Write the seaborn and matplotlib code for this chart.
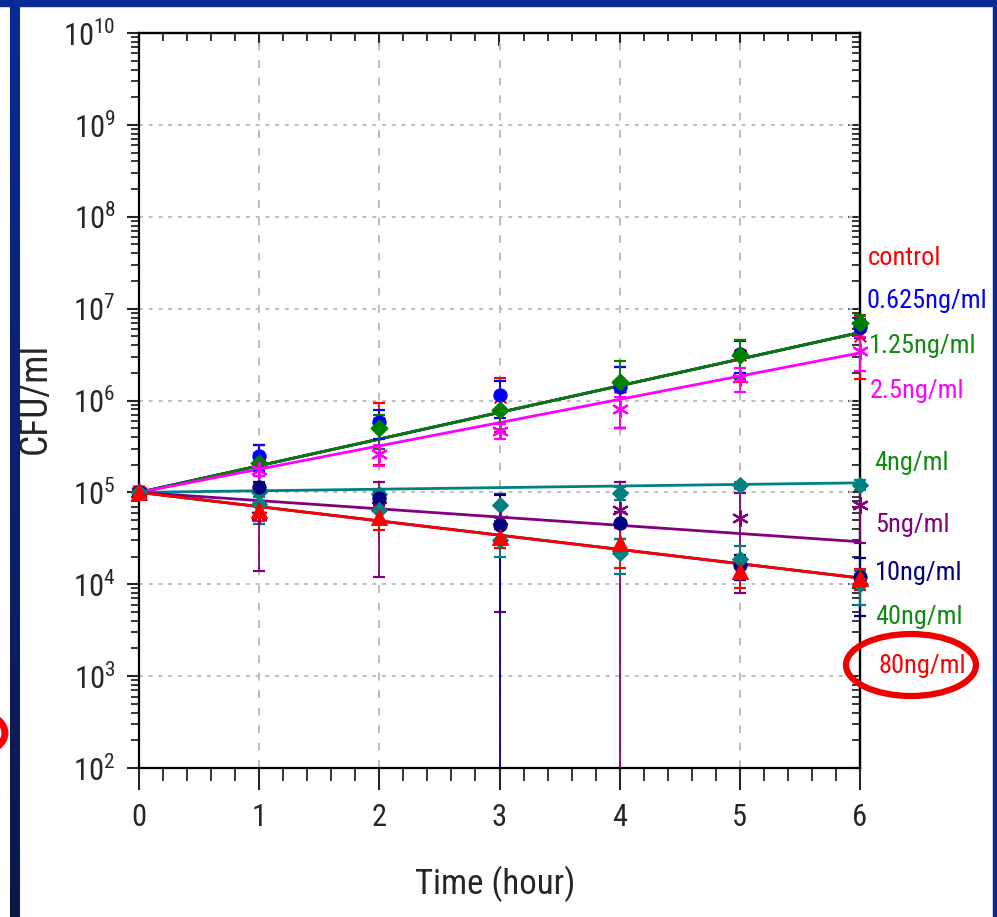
import numpy as np
import pandas as pd
import matplotlib
matplotlib.use('Agg')
import matplotlib.pyplot as plt
import seaborn as sns
from matplotlib import font_manager as fm
from matplotlib.patches import Rectangle, Ellipse
from matplotlib.colors import LinearSegmentedColormap
from matplotlib.ticker import MultipleLocator, NullFormatter, LogLocator
from matplotlib.transforms import Bbox, TransformedBbox

# ---------------- data ----------------
times = [0, 1, 2, 3, 4, 5, 6]
series = ['control', '0.625ng/ml', '1.25ng/ml', '2.5ng/ml', '4ng/ml',
          '5ng/ml', '10ng/ml', '40ng/ml', '80ng/ml']

control_mean = [1.0e5, 2.2e5, 5.7e5, 1.1e6, 1.4e6, 3.1e6, 5.0e6]
control_sd   = [1.5e4, 1.1e5, 3.7e5, 6.5e5, 9.0e5, 1.5e6, 3.3e6]
c0625_mean   = [1.0e5, 2.5e5, 5.8e5, 1.15e6, 1.4e6, 3.2e6, 6.3e6]
c0625_sd     = [1.5e4, 8.0e4, 2.0e5, 5.0e5, 9.0e5, 1.2e6, 1.5e6]
c125_mean    = [1.0e5, 2.1e5, 5.0e5, 7.9e5, 1.6e6, 3.1e6, 7.0e6]
c125_sd      = [1.5e4, 6.0e4, 2.0e5, 3.0e5, 1.1e6, 1.4e6, 1.5e6]
c25_mean     = [1.0e5, 1.75e5, 2.6e5, 4.7e5, 8.0e5, 1.75e6, 3.5e6]
c25_sd       = [1.5e4, 2.5e4, 6.5e4, 9.0e4, 3.0e5, 5.0e5, 1.4e6]
c4_mean      = [1.0e5, 1.0e5, 9.5e4, 7.2e4, 9.8e4, 1.2e5, 1.2e5]
c4_sd        = [1.5e4, 1.0e4, 1.0e4, 2.3e4, 1.5e4, 1.0e4, 1.5e4]
c5_mean      = [1.0e5, 5.6e4, 7.1e4, 5.0e4, 6.5e4, 5.3e4, 7.3e4]
c5_sd        = [1.5e4, 4.2e4, 5.9e4, 4.5e4, 6.6e4, 4.5e4, 4.5e4]
c10_mean     = [1.0e5, 1.15e5, 8.7e4, 4.4e4, 4.6e4, 1.6e4, 1.2e4]
c10_sd       = [1.5e4, 1.5e4, 1.5e4, 5.0e4, 1.5e4, 5.0e3, 7.5e3]
c40_mean     = [1.0e5, 7.5e4, 6.5e4, 3.0e4, 2.2e4, 1.9e4, 1.0e4]
c40_sd       = [1.5e4, 3.0e4, 2.0e4, 1.0e4, 9.0e3, 7.0e3, 4.0e3]
c80_mean     = [1.0e5, 6.4e4, 5.4e4, 3.3e4, 2.8e4, 1.4e4, 1.17e4]
c80_sd       = [1.5e4, 1.5e4, 1.5e4, 8.0e3, 1.3e4, 5.0e3, 3.0e3]

# fitted lines: value at first and last time point
fit_times   = [0, 6]
control_fit = [1.0e5, 5.5e6]
c0625_fit   = [1.0e5, 5.5e6]
c125_fit    = [1.0e5, 5.5e6]
c25_fit     = [1.0e5, 3.3e6]
c4_fit      = [1.0e5, 1.27e5]
c5_fit      = [1.0e5, 2.9e4]
c10_fit     = [1.0e5, 1.17e4]
c80_fit     = [1.0e5, 1.17e4]

x_ticks = [0, 1, 2, 3, 4, 5, 6]

# ---------------- style ----------------
sns.set_style('white')
_avail = {f.name for f in fm.fontManager.ttflist}
_narrow = None
for cand in ['Liberation Sans Narrow', 'Roboto Condensed', 'Open Sans Condensed',
             'DejaVu Sans Condensed']:
    if cand in _avail:
        _narrow = cand
        break
if _narrow:
    plt.rcParams['font.family'] = [_narrow, 'Liberation Sans', 'DejaVu Sans']
    TICK_FS, LAB_FS, SER_FS = 22, 25, 19
else:
    plt.rcParams['font.family'] = ['Liberation Sans', 'DejaVu Sans']
    TICK_FS, LAB_FS, SER_FS = 20, 23, 17

colors = {'control': '#ff0000', '0.625ng/ml': '#0000ff', '1.25ng/ml': '#008000',
          '2.5ng/ml': '#ff00ff', '4ng/ml': '#008080', '5ng/ml': '#800080',
          '10ng/ml': '#000080', '40ng/ml': '#008080', '80ng/ml': '#ff0000'}
label_colors = dict(colors)
label_colors['4ng/ml'] = '#108a10'
label_colors['40ng/ml'] = '#108a10'
label_colors['1.25ng/ml'] = '#108a10'

asterisk = (6, 2, 0)
markers = {'control': 'x', '0.625ng/ml': 'o', '1.25ng/ml': 'D', '2.5ng/ml': asterisk,
           '4ng/ml': 'D', '5ng/ml': asterisk, '10ng/ml': 'o', '40ng/ml': 'D',
           '80ng/ml': '^'}
msize = {'control': 70, '0.625ng/ml': 90, '1.25ng/ml': 75, '2.5ng/ml': 120,
         '4ng/ml': 65, '5ng/ml': 120, '10ng/ml': 90, '40ng/ml': 65, '80ng/ml': 130}

means = {'control': control_mean, '0.625ng/ml': c0625_mean, '1.25ng/ml': c125_mean,
         '2.5ng/ml': c25_mean, '4ng/ml': c4_mean, '5ng/ml': c5_mean,
         '10ng/ml': c10_mean, '40ng/ml': c40_mean, '80ng/ml': c80_mean}
sds = {'control': control_sd, '0.625ng/ml': c0625_sd, '1.25ng/ml': c125_sd,
       '2.5ng/ml': c25_sd, '4ng/ml': c4_sd, '5ng/ml': c5_sd,
       '10ng/ml': c10_sd, '40ng/ml': c40_sd, '80ng/ml': c80_sd}
fits = {'control': control_fit, '0.625ng/ml': c0625_fit, '1.25ng/ml': c125_fit,
        '2.5ng/ml': c25_fit, '4ng/ml': c4_fit, '5ng/ml': c5_fit,
        '10ng/ml': c10_fit, '80ng/ml': c80_fit}

W, H = 997, 917
fig = plt.figure(figsize=(W / 100, H / 100), dpi=100, facecolor='white')

# slide frame
fig.add_artist(Rectangle((0, 1 - 6 / H), 1, 6 / H, transform=fig.transFigure,
                         color='#0a2a9a', zorder=0))
fig.add_artist(Rectangle((993 / W, 0), 4 / W, 1, transform=fig.transFigure,
                         color='#0a2a9a', zorder=0))
gax = fig.add_axes([10 / W, 0, 10 / W, 911 / H])
gax.imshow(np.linspace(0, 1, 256).reshape(-1, 1), aspect='auto',
           cmap=LinearSegmentedColormap.from_list('g', ['#0b2a96', '#0a1848']))
gax.axis('off')
fig.add_artist(Ellipse((-20 / W, 1 - 733 / H), 50 / W, 38 / H, transform=fig.transFigure,
                       fill=False, ec='red', lw=5))

ax = fig.add_axes([139 / W, 1 - 768 / H, (860 - 139) / W, (768 - 33) / H])
ax.set_yscale('log')
ax.set_xlim(0, 6)
ax.set_ylim(1e2, 1e10)
ax.set_axisbelow(True)

# grid
ax.grid(True, axis='y', which='major', color='#bdbdbd', linestyle=(0, (2, 3)), lw=1.4)
ax.grid(True, axis='x', which='major', color='#bdbdbd', linestyle=(0, (4, 5)), lw=1.4)

# fit lines
fit_order = ['control', '0.625ng/ml', '1.25ng/ml', '2.5ng/ml', '4ng/ml', '5ng/ml',
             '10ng/ml', '80ng/ml']
fit_df = pd.DataFrame({
    'time': fit_times * len(fit_order),
    'cfu': sum([fits[s] for s in fit_order], []),
    'series': np.repeat(fit_order, len(fit_times)),
})
sns.lineplot(data=fit_df, x='time', y='cfu', hue='series', hue_order=fit_order,
             palette=colors, estimator=None, sort=False, lw=2.0, legend=False,
             ax=ax, zorder=2)

# error bars and markers
for i, s in enumerate(series):
    ax.errorbar(times, means[s], yerr=sds[s], fmt='none', ecolor=colors[s],
                elinewidth=1.3, capsize=4, capthick=1.6, zorder=3 + i * 0.1)
for i, s in enumerate(series):
    m = markers[s]
    if m in ('x', asterisk):
        sns.scatterplot(x=times, y=means[s], marker=m, color=colors[s], s=msize[s],
                        linewidth=1.6, ax=ax, zorder=5 + i * 0.1, legend=False)
    else:
        sns.scatterplot(x=times, y=means[s], marker=m, color=colors[s], s=msize[s],
                        edgecolor=colors[s], linewidth=0.8, ax=ax,
                        zorder=5 + i * 0.1, legend=False)

# let markers at the x edges show fully, but keep vertical clipping
clipbox = TransformedBbox(Bbox([[-0.03, 0.0], [1.03, 1.0]]), ax.transAxes)
for art in list(ax.collections) + list(ax.lines):
    art.set_clip_box(clipbox)

# axes styling
for sp in ax.spines.values():
    sp.set_color('black')
    sp.set_linewidth(1.6)
ax.set_xticks(x_ticks)
ax.set_xticklabels([str(t) for t in x_ticks])
ax.xaxis.set_minor_locator(MultipleLocator(0.2))
ax.yaxis.set_major_locator(LogLocator(base=10, numticks=20))
ax.yaxis.set_minor_locator(LogLocator(base=10, subs=np.arange(2, 10), numticks=20))
ax.yaxis.set_minor_formatter(NullFormatter())
ax.tick_params(axis='x', which='major', direction='out', length=16, width=1.5,
               pad=9, labelsize=TICK_FS, top=False, bottom=True)
ax.tick_params(axis='x', which='minor', direction='out', length=9, width=1.3,
               top=False, bottom=True)
ax.tick_params(axis='y', which='major', direction='out', length=9, width=1.5,
               pad=8, labelsize=TICK_FS, left=True, right=False)
ax.tick_params(axis='y', which='minor', direction='out', length=6, width=1.3,
               left=True, right=False)

secy = ax.secondary_yaxis('right')
secy.tick_params(axis='y', which='major', direction='in', length=9, width=1.5,
                 labelright=False)
secy.tick_params(axis='y', which='minor', direction='in', length=6, width=1.3)
secy.yaxis.set_minor_formatter(NullFormatter())
secy.spines['right'].set_linewidth(1.6)

secx = ax.secondary_xaxis('top')
secx.set_xticks(x_ticks)
secx.xaxis.set_minor_locator(MultipleLocator(0.2))
secx.tick_params(axis='x', which='major', direction='in', length=9, width=1.5,
                 labeltop=False)
secx.tick_params(axis='x', which='minor', direction='in', length=6, width=1.3)
secx.spines['top'].set_linewidth(1.6)

ax.set_xlabel('Time (hour)', fontsize=LAB_FS)
ax.set_ylabel('CFU/ml', fontsize=LAB_FS + 2)
ax.xaxis.set_label_coords((495 - 139) / 721, (768 - 866) / 735)
ax.yaxis.set_label_coords((54 - 139) / 721, (768 - 398) / 735)

# series labels on the right
label_pos = {'control': (868, 258), '0.625ng/ml': (866, 301), '1.25ng/ml': (869, 346),
             '2.5ng/ml': (870, 391), '4ng/ml': (874, 463), '5ng/ml': (875, 525),
             '10ng/ml': (875, 573), '40ng/ml': (875, 617), '80ng/ml': (878, 666)}
for s in series:
    px, py = label_pos[s]
    fig.text(px / W, 1 - py / H, s, color=label_colors[s], fontsize=SER_FS,
             ha='left', va='center')

fig.add_artist(Ellipse((911 / W, 1 - 665 / H), 130 / W, 62 / H, transform=fig.transFigure,
                       fill=False, ec='#ee0000', lw=4.5))

fig.savefig('out.png', dpi=100, facecolor='white')
